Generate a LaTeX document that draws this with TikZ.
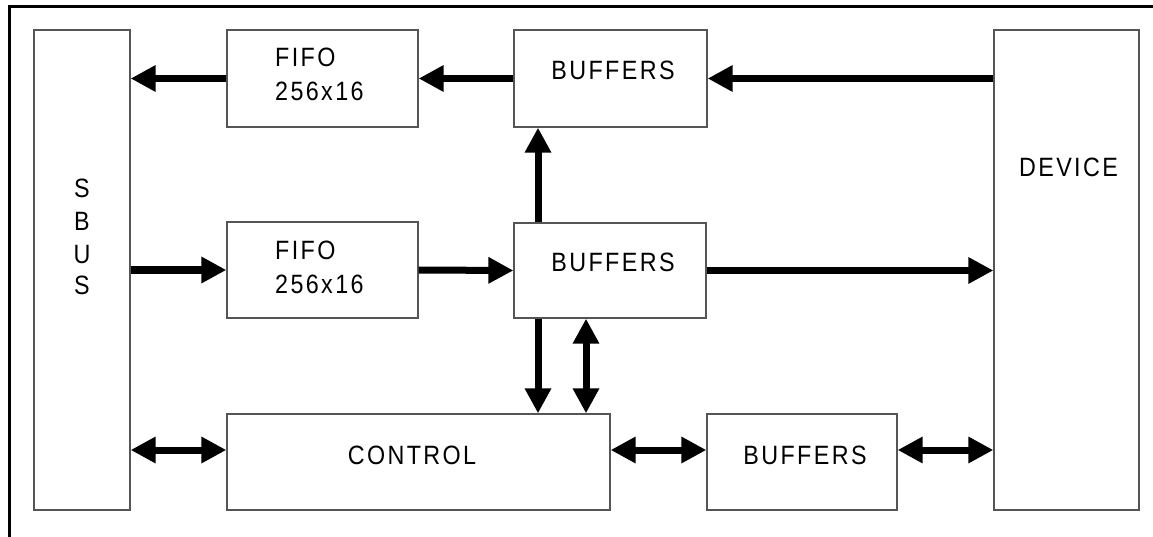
\documentclass[tikz,border=0pt]{standalone}
\usepackage{fontspec}
\setmainfont{Liberation Sans}[FakeStretch=0.88,LetterSpace=9]
\usetikzlibrary{arrows.meta}
\definecolor{boxgray}{HTML}{555555}
\begin{document}
\begin{tikzpicture}[x=1pt,y=-1pt,
  box/.style={draw=boxgray,line width=1.3pt,inner sep=0pt,rectangle},
  lbl/.style={inner sep=0pt,font=\fontsize{26.5}{32}\selectfont},
  flow/.style={line width=7pt,-{Triangle[length=25pt,width=25pt]}},
  both/.style={line width=7pt,{Triangle[length=25pt,width=25pt]}-{Triangle[length=25pt,width=25pt]}}]
\useasboundingbox (0,0) rectangle (1153,537);

% frame lines along the top and the left side
\draw[line width=2.7pt,line join=miter] (9.7,540) -- (9.7,6.3) -- (1160,6.3);

% blocks
\node[box,minimum width=96pt,minimum height=480pt] (sbus) at (82,270) {};
\node[box,minimum width=145pt,minimum height=480pt] (dev) at (1066.5,270) {};
\node[box,minimum width=191pt,minimum height=97pt] (fifoA) at (322.5,78.5) {};
\node[box,minimum width=193pt,minimum height=97pt] (bufA) at (610.5,78.5) {};
\node[box,minimum width=191pt,minimum height=96pt] (fifoB) at (322.5,270) {};
\node[box,minimum width=192pt,minimum height=95pt] (bufB) at (610,270.5) {};
\node[box,minimum width=383pt,minimum height=96pt] (ctrl) at (418.5,462) {};
\node[box,minimum width=190pt,minimum height=96pt] (bufC) at (802,462) {};

% labels
\node[lbl,anchor=base] (sbusS) at (82,198) {S};
\node[lbl,anchor=base] (sbusB) at (82,230.5) {B};
\node[lbl,anchor=base] (sbusU) at (82,263) {U};
\node[lbl,anchor=base] (sbusS2) at (82,294.5) {S};
\node[lbl,anchor=base] (devT) at (1068.5,177) {DEVICE};
\node[lbl,anchor=base west] (fifoA1) at (275,67) {FIFO};
\node[lbl,anchor=base west] (fifoA2) at (275,101) {256x16};
\node[lbl,anchor=base west] (fifoB1) at (275,259) {FIFO};
\node[lbl,anchor=base west] (fifoB2) at (275,293) {256x16};
\node[lbl,anchor=base] (bufAt) at (613,79.5) {BUFFERS};
\node[lbl,anchor=base] (bufBt) at (613,272) {BUFFERS};
\node[lbl,anchor=base] (ctrlT) at (412,464) {CONTROL};
\node[lbl,anchor=base] (bufCt) at (805,464) {BUFFERS};

% guide positions for the bottom row and the vertical links
\coordinate (rowC) at (0,450);
\coordinate (colA) at (538,0);
\coordinate (colB) at (586,0);

% top row: device towards the bus
\draw[flow] (dev.west |- bufA.east) -- (bufA.east);
\draw[flow] (bufA.west) -- (fifoA.east);
\draw[flow] (fifoA.west) -- (sbus.east |- fifoA.west);

% middle row: bus towards the device
\draw[flow] (sbus.east |- fifoB.west) -- (fifoB.west);
\draw[flow] (fifoB.east) -- (bufB.west);
\draw[flow] (bufB.east) -- (dev.west |- bufB.east);

% bottom row
\draw[both] (sbus.east |- rowC) -- (ctrl.west |- rowC);
\draw[both] (ctrl.east |- rowC) -- (bufC.west |- rowC);
\draw[both] (bufC.east |- rowC) -- (dev.west |- rowC);

% vertical links around the middle buffers
\draw[flow] (bufB.north -| colA) -- (bufA.south -| colA);
\draw[flow] (bufB.south -| colA) -- (ctrl.north -| colA);
\draw[both] (bufB.south -| colB) -- (ctrl.north -| colB);
\end{tikzpicture}
\end{document}
